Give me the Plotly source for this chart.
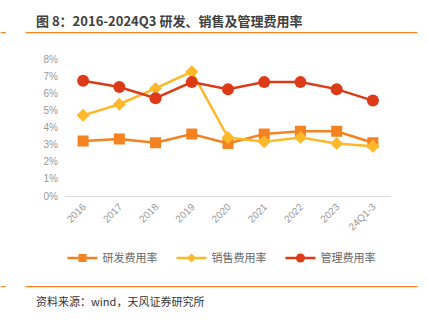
import plotly.graph_objects as go

categories = ["2016", "2017", "2018", "2019", "2020", "2021", "2022", "2023", "24Q1-3"]
rd_rate = [3.21, 3.33, 3.11, 3.62, 3.07, 3.62, 3.78, 3.78, 3.11]
sales_rate = [4.71, 5.36, 6.28, 7.26, 3.42, 3.17, 3.42, 3.07, 2.91]
admin_rate = [6.73, 6.36, 5.71, 6.65, 6.24, 6.65, 6.65, 6.24, 5.57]
series_names = ["研发费用率", "销售费用率", "管理费用率"]
y_ticks = [0, 1, 2, 3, 4, 5, 6, 7, 8]
y_labels = [f"{v}%" for v in y_ticks]

ORANGE = "#F58220"
YELLOW = "#FDB92A"
RED = "#DD3B18"
CJK = "Noto Sans CJK SC, sans-serif"
LATIN = "Liberation Sans, Arial, sans-serif"

styles = [
    (rd_rate, ORANGE, "square", 11, 8),
    (sales_rate, YELLOW, "diamond", 10, 7),
    (admin_rate, RED, "circle", 12, 9),
]

fig = go.Figure()
for name, (vals, color, symbol, size, legend_size) in zip(series_names, styles):
    fig.add_trace(go.Scatter(x=categories, y=vals, name=name, mode="lines+markers",
                             showlegend=False,
                             line=dict(color=color, width=2.5),
                             marker=dict(symbol=symbol, size=size, color=color)))
    # legend key with a smaller marker
    fig.add_trace(go.Scatter(x=[None], y=[None], name=name, mode="lines+markers",
                             line=dict(color=color, width=2.5),
                             marker=dict(symbol=symbol, size=legend_size, color=color)))

PL, PR, PT, PB = 64.5, 36.5, 59.3, 125.3
PW, PH = 428 - PL - PR, 321 - PT - PB

fig.update_layout(
    width=428, height=321,
    margin=dict(l=PL, r=PR, t=PT, b=PB, autoexpand=False),
    paper_bgcolor="white", plot_bgcolor="white",
    font=dict(family=LATIN, color="#999999", size=9),
    showlegend=True,
    legend=dict(orientation="h", xref="container", yref="container",
                x=0.528, xanchor="center", y=(321 - 258) / 321, yanchor="middle",
                font=dict(size=11, color="#666666", family=CJK), itemwidth=30,
                entrywidth=64, entrywidthmode="pixels",
                tracegroupgap=0, bgcolor="rgba(0,0,0,0)"),
    xaxis=dict(type="category", range=[-0.5, 8.5], showgrid=False,
               showline=True, linecolor="#D9D9D9", linewidth=1,
               ticks="", tickangle=-45, tickfont=dict(size=10, color="#999999", family=LATIN)),
    yaxis=dict(range=[0, 8], tickvals=y_ticks, ticktext=y_labels, showgrid=False,
               zeroline=False, showline=False, ticks="", ticklabelstandoff=6,
               tickfont=dict(size=10, color="#999999", family=LATIN)),
)


def px_x(x):
    return (x - PL) / PW


def px_y(y):
    return (321 - y - PB) / PH


# Header and footer rules
for ypx in (33, 286):
    for x0, x1 in ((0, 5), (25, 418)):
        fig.add_shape(type="line", xref="paper", yref="paper", x0=px_x(x0), x1=px_x(x1),
                      y0=px_y(ypx), y1=px_y(ypx), line=dict(color=ORANGE, width=1.2))

fig.add_annotation(text="<b>图 8：2016-2024Q3 研发、销售及管理费用率</b>", xref="paper", yref="paper",
                   x=px_x(33), xanchor="left", y=px_y(21), yanchor="middle",
                   showarrow=False, font=dict(size=13, color="#404040", family=CJK))
fig.add_annotation(text="资料来源：wind，天风证券研究所", xref="paper", yref="paper",
                   x=px_x(33), xanchor="left", y=px_y(300), yanchor="middle",
                   showarrow=False, font=dict(size=11, color="#333333", family=CJK))

fig.write_html("out.html")
